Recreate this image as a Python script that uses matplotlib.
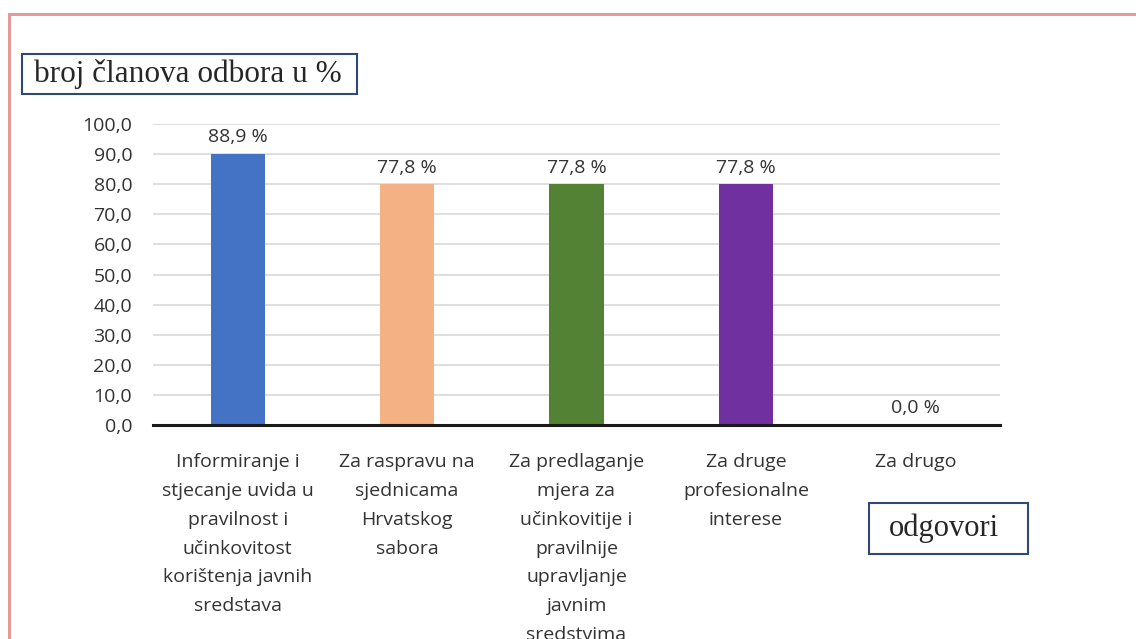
import matplotlib
matplotlib.use("Agg")
import matplotlib.pyplot as plt
from matplotlib.patches import Rectangle

categories = [
    "Informiranje i\nstjecanje uvida u\npravilnost i\nučinkovitost\nkorištenja javnih\nsredstava",
    "Za raspravu na\nsjednicama\nHrvatskog\nsabora",
    "Za predlaganje\nmjera za\nučinkovitije i\npravilnije\nupravljanje\njavnim\nsredstvima",
    "Za druge\nprofesionalne\ninterese",
    "Za drugo",
]
bar_heights = [90.0, 80.0, 80.0, 80.0, 0.0]
value_labels = ["88,9 %", "77,8 %", "77,8 %", "77,8 %", "0,0 %"]
colors = ["#4472C4", "#F4B183", "#548235", "#7030A0", "#A5A5A5"]
yticks = [0, 10, 20, 30, 40, 50, 60, 70, 80, 90, 100]
ytick_labels = ["0,0", "10,0", "20,0", "30,0", "40,0", "50,0", "60,0", "70,0", "80,0", "90,0", "100,0"]
y_title = "broj članova odbora u %"
x_title = "odgovori"

sans = ["Open Sans", "DejaVu Sans"]
serif = ["Liberation Serif", "DejaVu Serif"]
txt = "#333333"

fig = plt.figure(figsize=(11.36, 6.39), dpi=100)
ax = fig.add_axes([153/1136, 1-425/639, 847/1136, 301/639])

x = list(range(len(categories)))
ax.bar(x, bar_heights, width=0.32, color=colors, zorder=3)
ax.set_xlim(-0.5, len(categories) - 0.5)
ax.set_ylim(0, 100)
ax.set_yticks(yticks)
ax.set_yticklabels(ytick_labels, family=sans, fontsize=14, color=txt)
ax.set_xticks(x)
ax.set_xticklabels(categories, family=sans, fontsize=14, color=txt, linespacing=1.78, va="top")
ax.tick_params(axis="both", length=0)
ax.tick_params(axis="y", pad=15)
ax.tick_params(axis="x", pad=20)
ax.grid(axis="y", color="#D9D9D9", linewidth=1.2, zorder=0)
for s in ["top", "right", "left"]:
    ax.spines[s].set_visible(False)
ax.spines["bottom"].set_linewidth(2.2)
ax.spines["bottom"].set_color("#1a1a1a")
ax.spines["bottom"].set_zorder(4)

for xi, h, lab in zip(x, bar_heights, value_labels):
    ax.annotate(lab, (xi, h), xytext=(0, 5.5), textcoords="offset points",
                ha="center", va="bottom", family=sans, fontsize=14, color=txt)

# outer pink frame
fig.patches.append(Rectangle((9/1136, -0.1), 1.2, 1 - 14/639 + 0.1, transform=fig.transFigure,
                             fill=False, edgecolor="#E39A9A", linewidth=2.2))

# boxed titles
fig.patches.append(Rectangle((22/1136, 1-94/639), 335/1136, 40/639, transform=fig.transFigure,
                             fill=False, edgecolor="#2F4A7A", linewidth=1.5))
fig.text(188/1136, 1-74/639, y_title, ha="center", va="center", family=serif, fontsize=22.5, color="#262626")
fig.patches.append(Rectangle((869/1136, 1-554/639), 159/1136, 51/639, transform=fig.transFigure,
                             fill=False, edgecolor="#2F4A7A", linewidth=1.5))
fig.text(944/1136, 1-528/639, x_title, ha="center", va="center", family=serif, fontsize=22, color="#262626")

fig.savefig("out.png", dpi=100)
